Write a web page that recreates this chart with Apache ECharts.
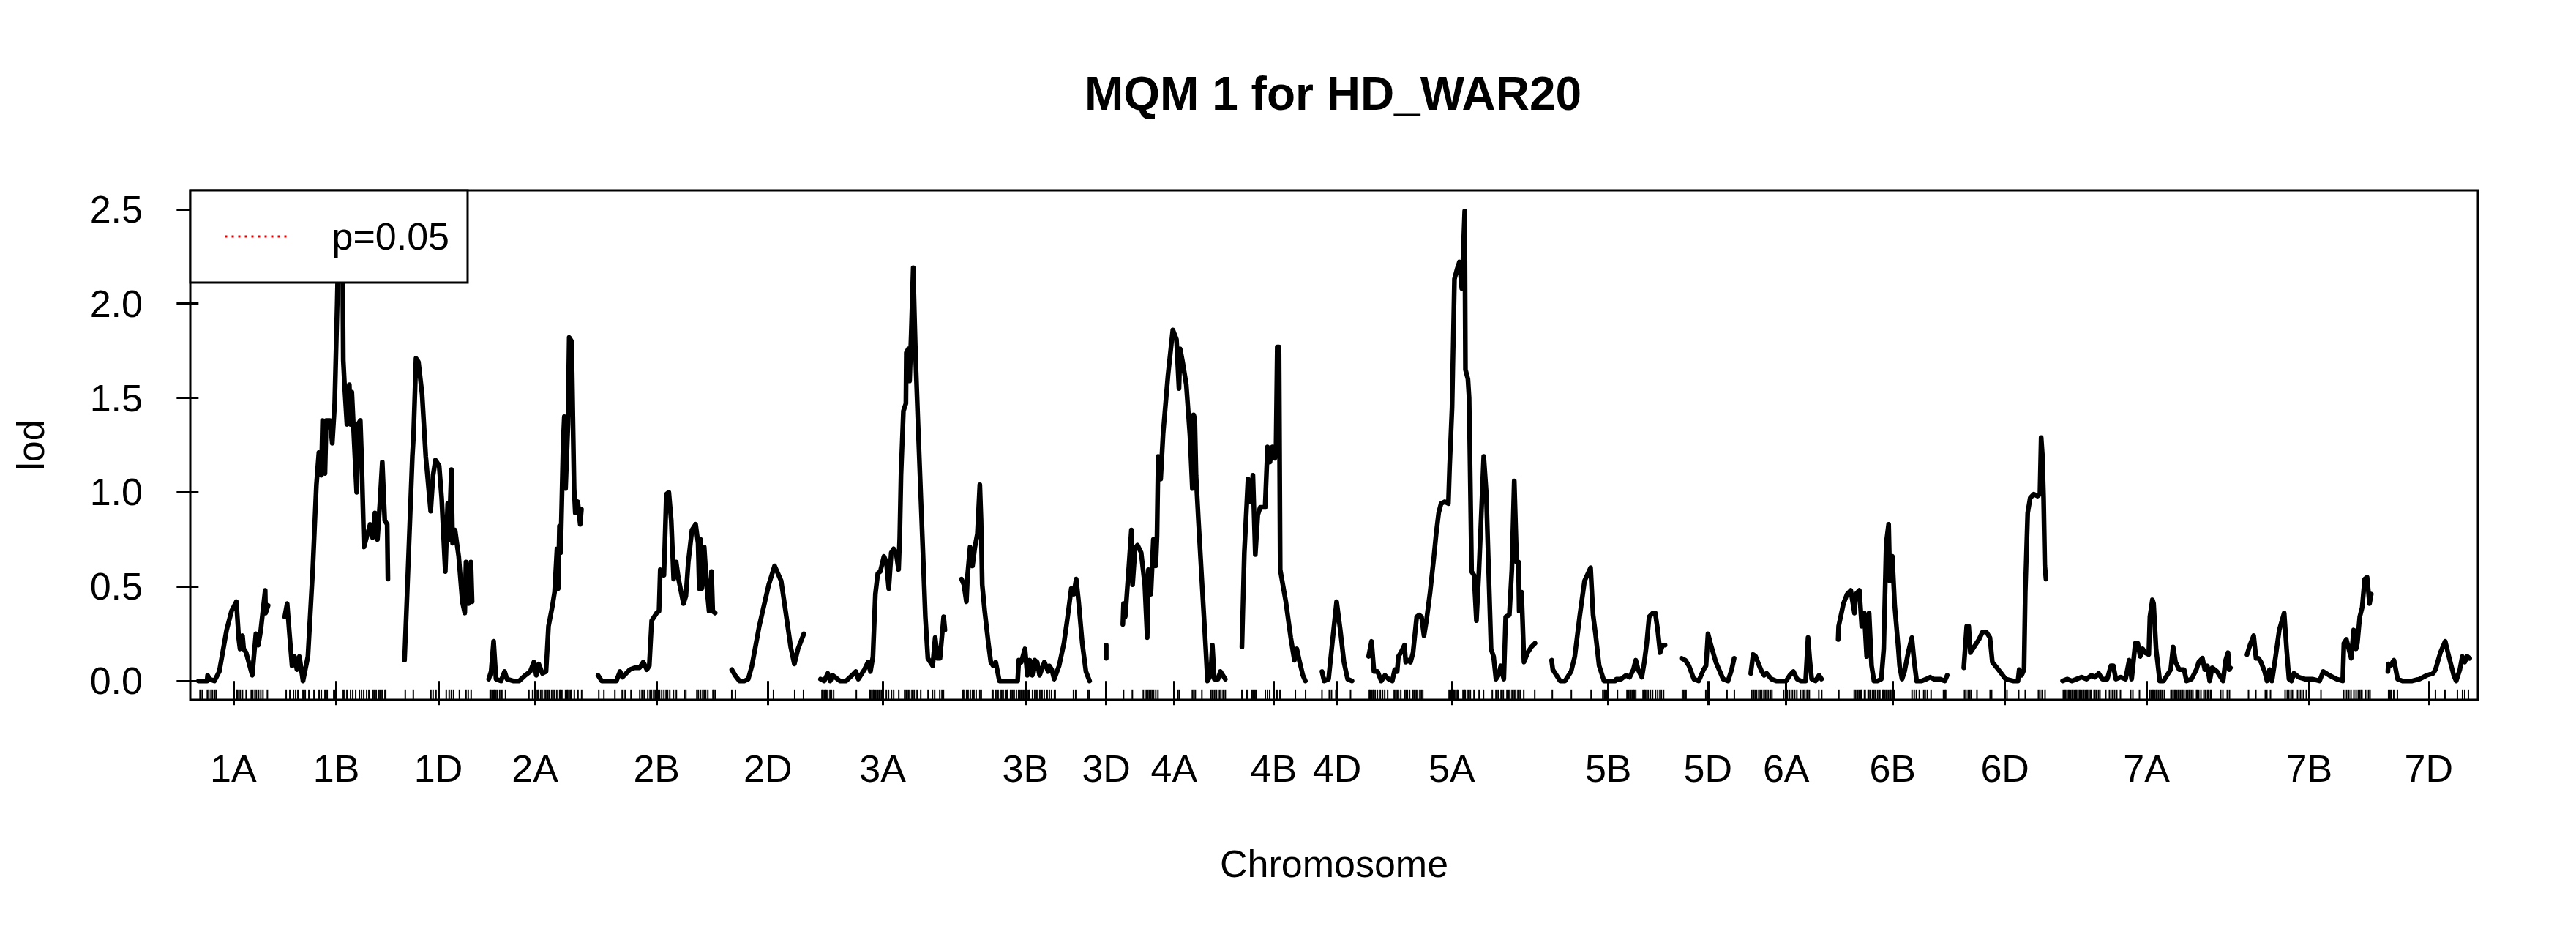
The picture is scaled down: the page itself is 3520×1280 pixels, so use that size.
<!DOCTYPE html>
<html>
<head>
<meta charset="utf-8">
<script src="https://cdn.jsdelivr.net/npm/echarts@6/dist/echarts.min.js"></script>
<style>
html,body{margin:0;padding:0;background:#fff;}
#chart{width:3520px;height:1280px;}
</style>
</head>
<body>
<div id="chart"></div>
<script>
// ---- chromosomes ----
const chrNames = ['1A','1B','1D','2A','2B','2D','3A','3B','3D','4A','4B','4D','5A','5B','5D','6A','6B','6D','7A','7B','7D'];
const chrLengths = [95,141,92.3,126.7,160,98.5,170,175,0,140,86.7,41,227.3,155,71.7,96.7,149,112.3,229.3,169.7,111.7];
const GAP = 22.7;
const yTicks = [0, 0.5, 1.0, 1.5, 2.0, 2.5];

// ---- LOD profiles: [position within chromosome, lod] ----
const lod1A = [[0,0],[11.6,0],[12.3,0.03],[15,0.01],[21.6,0],[28.3,0.05],[38.3,0.27],[45,0.37],[51.6,0.42],[55,0.22],[56.6,0.17],[60,0.24],[61.6,0.17],[65,0.15],[73.3,0.03],[78.3,0.25],[81.6,0.19],[85,0.27],[91,0.48],[91.6,0.36],[95,0.40]];
const lod1B = [[0,0.34],[3.3,0.41],[6.7,0.24],[10,0.08],[13.3,0.13],[16.7,0.06],[20,0.13],[25,0],[31.7,0.13],[38.3,0.59],[43.3,1.04],[46.7,1.21],[50,1.09],[51.7,1.38],[55,1.10],[56.7,1.38],[61.7,1.38],[65,1.26],[68.3,1.47],[71.7,2.0],[73.3,2.3],[76.7,2.25],[79,2.3],[80,1.70],[81.7,1.57],[85,1.36],[88.3,1.57],[90,1.36],[91.7,1.53],[95,1.26],[98.3,1.0],[100,1.36],[103.3,1.38],[105,1.19],[108.3,0.71],[111.7,0.76],[116.7,0.83],[120,0.76],[123.3,0.89],[126.7,0.75],[130,0.94],[133.3,1.16],[136.7,0.85],[140,0.83],[141,0.54]];
const lod1D = [[0,0.11],[4,0.51],[10.7,1.19],[12.3,1.30],[15.7,1.71],[19,1.69],[24,1.52],[29,1.19],[35.7,0.90],[39,1.09],[42.3,1.17],[47.3,1.14],[50.7,0.97],[55.7,0.58],[59,0.94],[60.7,0.75],[64,1.12],[65.7,0.73],[69,0.80],[74,0.66],[79,0.42],[82.3,0.36],[84,0.63],[87.3,0.41],[90.7,0.63],[92.3,0.42]];
const lod2A = [[0,0.01],[3.3,0.05],[6.7,0.21],[10,0.01],[16.7,0],[21.7,0.05],[25,0.01],[33.3,0],[41.7,0],[50,0.03],[56.7,0.05],[61.7,0.10],[65,0.03],[68.3,0.09],[73.3,0.04],[78.3,0.05],[81.7,0.29],[86.7,0.39],[90,0.47],[93.3,0.70],[95,0.49],[96.7,0.82],[98.3,0.68],[101.7,1.26],[103.3,1.40],[105,1.02],[108.3,1.36],[110,1.82],[113.3,1.80],[115,1.40],[116.7,1.02],[118.3,0.89],[121.7,0.95],[125,0.83],[126.7,0.91]];
const lod2B = [[0,0.03],[5,0],[25,0],[30,0.05],[33.3,0.02],[38.3,0.04],[43.3,0.06],[50,0.07],[56.7,0.07],[61.7,0.10],[66.7,0.06],[70,0.08],[73.3,0.32],[80,0.36],[83.3,0.37],[85,0.59],[90,0.56],[93.3,0.99],[96.7,1.0],[100,0.85],[103.3,0.54],[106.7,0.63],[110,0.54],[116.7,0.41],[120,0.45],[123.3,0.63],[128.3,0.80],[133.3,0.83],[136.7,0.73],[138.3,0.49],[140,0.75],[141.7,0.49],[145,0.71],[148.3,0.51],[151.7,0.37],[155,0.58],[156.7,0.37],[160,0.36]];
const lod2D = [[0,0.06],[4.5,0.03],[10.5,0],[17.5,0],[22.5,0.01],[27.5,0.08],[37.5,0.29],[50.5,0.51],[58.5,0.61],[67.5,0.53],[73.5,0.37],[80.5,0.18],[85.5,0.09],[90.5,0.17],[98.5,0.25]];
const lod3A = [[0,0.01],[5,0],[10,0.04],[13.3,0],[16.7,0.03],[20,0.02],[26.7,0],[35,0],[43.3,0.03],[48.3,0.05],[51.7,0.01],[60,0.06],[65,0.10],[68.3,0.05],[71.7,0.13],[75,0.46],[78.3,0.57],[81.7,0.58],[86.7,0.66],[90,0.63],[93.3,0.49],[96.7,0.68],[100,0.70],[103.3,0.68],[106.7,0.59],[108.3,0.76],[110,1.09],[113.3,1.43],[116.7,1.47],[117.3,1.74],[120,1.76],[121.7,1.59],[124,1.84],[126.7,2.19],[128.3,1.95],[130,1.71],[133.3,1.36],[140,0.68],[143.3,0.34],[146.7,0.12],[153.3,0.08],[156.7,0.23],[160,0.12],[163.3,0.12],[168.3,0.34],[170,0.27]];
const lod3B = [[0,0.54],[3.3,0.51],[6.7,0.42],[8.3,0.56],[11.7,0.71],[15,0.61],[18.3,0.71],[21.7,0.78],[25,1.04],[26.7,0.85],[28.3,0.51],[31.7,0.37],[36.7,0.20],[40,0.10],[43.3,0.08],[46.7,0.10],[51.7,0],[76.7,0],[78.3,0.11],[81.7,0.10],[86.7,0.17],[90,0.03],[93.3,0.11],[96.7,0.03],[100,0.11],[103.3,0.10],[106.7,0.03],[113.3,0.10],[118.3,0.05],[120,0.08],[123.3,0.06],[126.7,0.01],[133.3,0.08],[140,0.20],[145,0.34],[150,0.49],[153.3,0.46],[156.7,0.54],[160,0.42],[165,0.20],[170,0.05],[175,0]];
const lod3D = [[0,0.19],[0,0.12]];
const lod4A = [[0,0.30],[1,0.41],[3.3,0.34],[8.3,0.61],[11.7,0.80],[13.3,0.51],[16.7,0.70],[20,0.72],[25,0.68],[30,0.51],[33.3,0.23],[35,0.59],[38.3,0.46],[41.7,0.75],[45,0.61],[46.7,0.77],[48.3,1.19],[51.7,1.07],[55,1.31],[61.7,1.62],[68.3,1.86],[73.3,1.81],[76.7,1.55],[78.3,1.76],[81.7,1.69],[86.7,1.57],[91.7,1.30],[95,1.02],[96.7,1.41],[98.3,1.39],[100,1.09],[103.3,0.85],[108.3,0.51],[113.3,0.17],[115.7,0],[120,0.03],[122.3,0.19],[125,0.01],[130,0.01],[133.3,0.05],[136.7,0.03],[140,0.01]];
const lod4B = [[0,0.18],[3.3,0.68],[8.3,1.07],[11.7,0.95],[15,1.09],[18.3,0.67],[21.7,0.88],[25,0.92],[31.7,0.92],[35,1.24],[38.3,1.16],[41.7,1.24],[45,1.18],[46.7,1.26],[48.3,1.77],[50.7,1.77],[52.3,0.59],[60,0.42],[66.7,0.23],[71.7,0.11],[75,0.17],[78.3,0.11],[83.3,0.03],[86.7,0]];
const lod4D = [[0,0.05],[3,0],[9,0.01],[14,0.2],[20,0.42],[25,0.27],[30,0.10],[35,0.01],[41,0]];
const lod5A = [[0,0.13],[4,0.21],[7.3,0.05],[12.3,0.05],[17.3,0],[22.3,0.03],[27.3,0.01],[32.3,0],[35.7,0.06],[39,0.05],[40.7,0.13],[44,0.15],[49,0.19],[50.7,0.10],[54,0.11],[57.3,0.10],[60.7,0.15],[65.7,0.34],[69,0.35],[72.3,0.34],[75.7,0.24],[79,0.32],[84,0.47],[89,0.65],[92.3,0.78],[95.7,0.89],[99,0.94],[104,0.95],[109,0.94],[110.7,1.14],[114,1.45],[117.3,2.13],[120.7,2.18],[124,2.22],[127.3,2.08],[129,2.24],[131.3,2.49],[132.3,1.65],[135.7,1.60],[137.3,1.50],[140.7,0.58],[144,0.56],[147.3,0.32],[150.7,0.58],[157.3,1.19],[160.7,1.0],[167.3,0.17],[170.7,0.13],[174,0.01],[177.3,0.03],[180.7,0.08],[184.7,0.01],[187.3,0.34],[192.3,0.35],[195.7,0.59],[199,1.06],[202.3,0.63],[204.7,0.63],[205.7,0.37],[209,0.47],[212.3,0.10],[217.3,0.15],[222.3,0.18],[227.3,0.20]];
const lod5B = [[0,0.11],[1.7,0.06],[11.7,0],[18.3,0],[26.7,0.05],[31.7,0.13],[38.3,0.34],[45,0.53],[53.3,0.60],[56.7,0.35],[60,0.25],[65,0.08],[71.7,0],[86.7,0],[88.3,0.01],[95,0.01],[101.7,0.03],[106.7,0.02],[111.7,0.06],[115,0.11],[118.3,0.06],[123.3,0.02],[126.7,0.10],[130,0.20],[133.3,0.34],[138.3,0.36],[141.7,0.36],[145,0.27],[148.3,0.15],[151.7,0.19],[155,0.19]];
const lod5D = [[0,0.12],[5,0.11],[10,0.08],[16.7,0.01],[23.3,0],[30,0.06],[33.3,0.08],[36,0.25],[40,0.19],[46.7,0.10],[56.7,0.01],[63.3,0],[68.3,0.06],[71.7,0.12]];
const lod6A = [[0,0.04],[3.3,0.14],[6.7,0.13],[11.7,0.08],[15,0.05],[18.3,0.03],[21.7,0.04],[28.3,0.01],[35,0],[48.3,0],[53.3,0.03],[58.3,0.05],[63.3,0.01],[68.3,0],[75,0],[78.3,0.23],[80.7,0.11],[83.3,0.01],[88.3,0],[93.3,0.03],[96.7,0.01]];
const lod6B = [[0,0.22],[0.7,0.29],[7.3,0.41],[12.3,0.46],[17.3,0.48],[22.3,0.36],[24,0.46],[29,0.48],[32.3,0.29],[35.7,0.36],[39,0.13],[42.3,0.36],[45.7,0.08],[49,0],[54,0],[59,0.01],[62.3,0.17],[65.7,0.73],[69,0.83],[70.7,0.53],[74,0.66],[77.3,0.40],[82.3,0.17],[84,0.08],[87.3,0.01],[90.7,0.05],[95.7,0.15],[100.7,0.23],[104,0.10],[107.3,0],[114,0],[120.7,0.01],[125.7,0.02],[130.7,0.01],[139,0.01],[145.7,0],[149,0.03]];
const lod6D = [[0,0.07],[4,0.29],[6.7,0.29],[9,0.15],[14,0.18],[20.7,0.22],[25.7,0.26],[30.7,0.26],[35.7,0.23],[39,0.10],[47.3,0.06],[57.3,0.01],[67.3,0],[74,0],[75.7,0.06],[79,0.03],[82.3,0.06],[84,0.47],[87.3,0.89],[90.7,0.97],[95.7,0.99],[100.7,0.98],[104,0.99],[105.7,1.29],[107.3,1.20],[109,0.97],[110.7,0.61],[112.3,0.54]];
const lod7A = [[0,0],[6,0.01],[12.7,0],[19.3,0.01],[26,0.02],[32.7,0.01],[39.3,0.03],[44.3,0.02],[49.3,0.04],[54.3,0.01],[61,0.01],[66,0.08],[69.3,0.08],[72.7,0.01],[79.3,0.02],[86,0.01],[91,0.11],[94.3,0.01],[99.3,0.20],[102.7,0.20],[106,0.13],[109.3,0.17],[112.7,0.15],[117.7,0.14],[119.3,0.34],[122.7,0.43],[124.3,0.41],[127.7,0.17],[132.7,0],[137.7,0],[142.7,0.03],[147.7,0.06],[151,0.18],[154.3,0.10],[159.3,0.06],[166,0.06],[169.3,0],[176,0.01],[182.7,0.06],[186,0.10],[191,0.12],[194.3,0.06],[197.7,0.08],[201,0],[204.3,0.07],[211,0.05],[219.3,0],[222.7,0.11],[226,0.15],[227.7,0.06],[229.3,0.07]];
const lod7B = [[0,0.14],[4,0.19],[9,0.24],[12.3,0.12],[15.7,0.12],[19,0.10],[24,0.05],[27.3,0],[30.7,0.06],[34,0],[39,0.13],[44,0.27],[50.7,0.36],[54,0.17],[57.3,0.01],[60.7,0],[64,0.04],[70.7,0.02],[79,0.01],[89,0.01],[99,0],[104,0.05],[112.3,0.03],[122.3,0.01],[130.7,0],[132.3,0.20],[135.7,0.22],[139,0.17],[142.3,0.12],[145.7,0.27],[149,0.17],[150.7,0.20],[154,0.34],[157.3,0.39],[160.7,0.54],[164,0.55],[167.3,0.41],[169.7,0.46]];
const lod7D = [[0,0.05],[0.7,0.09],[3.3,0.08],[8.3,0.11],[13.3,0.01],[20,0],[33.3,0],[43.3,0.01],[53.3,0.03],[61.7,0.04],[65,0.06],[71.7,0.15],[78.3,0.21],[83.3,0.13],[90,0.03],[93.3,0],[98.3,0.06],[101.7,0.13],[105,0.10],[108.3,0.13],[111.7,0.12]];

// ---- marker positions (rug) within each chromosome ----
const mk1A = [2,5,12,14,17,19,22,24,52,53,55,57,60,65,72,74,77,79,82,85,88,94];
const mk1B = [2,7,12,15,18,25,28,33,40,47,50,55,58,67,68,80,82,85,90,93,97,102,105,108,112,115,120,122,125,128,130,133,137,138];
const mk1D = [1,12,36,39,43,57,61,64,67,75,84,87,91];
const mk2A = [2,3,5,7,8,10,12,15,18,23,55,60,63,65,67,68,71,73,76,78,81,83,86,88,90,93,97,98,100,105,107,108,110,112,113,117,122,127];
const mk2B = [1,8,23,33,37,45,57,60,63,68,71,73,76,78,82,84,87,90,93,95,98,103,107,118,120,135,137,140,143,145,147,150,157,158,160];
const mk2D = [0,5,57,86,98];
const mk3A = [2,3,5,7,8,10,13,15,18,49,67,68,70,72,73,75,77,78,80,83,90,93,97,100,107,115,117,120,122,125,128,132,137,147,153,156,163,166,168];
const mk3B = [2,3,7,9,12,15,17,20,25,27,42,43,47,50,53,55,57,60,62,63,67,68,70,72,75,78,80,82,83,85,87,88,90,92,93,97,100,103,107,110,113,117,120,123,127,128,153,156,173,175];
const mk3D = [0];
const mk4A = [1,13,28,32,34,36,38,40,42,45,48,75,77,95,97,99,108,120,122,125,127,128,132,134,137,140];
const mk4B = [0,6,8,13,15,17,19,32,35,38,44,47,49,52,73,87];
const mk4D = [0,10,13,19,39];
const mk5A = [1,2,4,6,7,9,12,16,19,22,26,35,37,39,41,44,49,51,53,56,60,62,65,67,70,72,74,110,112,114,116,117,119,121,122,129,131,132,136,139,144,151,157,169,174,177,181,184,189,191,193,196,199,201,204,207,212,227];
const mk5B = [1,27,54,70,72,73,75,77,90,103,105,107,108,110,112,113,115,125,127,128,130,132,135,138,142,145,148,150,153];
const mk5D = [1,3,6,33,37,62,72];
const mk6A = [1,3,4,6,8,11,13,15,18,20,22,24,27,29,45,50,53,57,60,63,68,72,74,77,78,80,93,97];
const mk6B = [1,22,24,27,29,31,32,36,37,41,42,44,47,49,51,54,57,61,62,64,66,67,69,71,72,74,77,101,104,107,111,117,119,122,127,144,146,147];
const mk6D = [1,3,6,8,10,18,36,38,59,75,84,102,104,107,111];
const mk7A = [1,3,4,6,8,9,11,13,14,16,18,19,21,23,24,26,28,29,31,33,34,36,38,39,43,44,46,49,51,59,64,68,71,74,79,93,96,105,119,121,123,124,126,128,129,131,133,134,136,139,148,149,151,153,154,156,158,159,161,163,164,166,169,171,173,174,176,178,183,184,186,189,193,195,198,199,202,203,216,219,225,228];
const mk7B = [2,12,25,27,32,52,55,57,60,62,69,73,77,81,101,132,136,139,142,146,149,152,154,156,157,162,166,168];
const mk7D = [1,3,5,8,13,65,78,95,102,105,110];

const chrLod = [lod1A,lod1B,lod1D,lod2A,lod2B,lod2D,lod3A,lod3B,lod3D,lod4A,lod4B,lod4D,lod5A,lod5B,lod5D,lod6A,lod6B,lod6D,lod7A,lod7B,lod7D];
const chrMarkers = [mk1A,mk1B,mk1D,mk2A,mk2B,mk2D,mk3A,mk3B,mk3D,mk4A,mk4B,mk4D,mk5A,mk5B,mk5D,mk6A,mk6B,mk6D,mk7A,mk7B,mk7D];

// ---- layout along the genome (R/qtl style: chromosomes separated by a gap) ----
const starts = [];
let acc = 0;
chrLengths.forEach((len) => { starts.push(acc); acc += len + GAP; });
const totalLen = starts[starts.length - 1] + chrLengths[chrLengths.length - 1];
const mids = chrLengths.map((len, i) => starts[i] + len / 2);

const FONT = "'Liberation Sans', Arial, Helvetica, sans-serif";
const Y_MIN = -0.1, Y_MAX = 2.6, RUG_TOP = -0.045;

const series = chrLod.map((pts, i) => ({
  type: 'line',
  name: chrNames[i],
  data: pts.map(p => [starts[i] + p[0], p[1]]),
  symbol: 'none',
  showSymbol: false,
  silent: true,
  animation: false,
  z: 3,
  lineStyle: { color: '#000', width: 6.5, cap: 'round', join: 'round' }
}));

const rugData = [];
chrMarkers.forEach((arr, i) => arr.forEach(m => rugData.push([starts[i] + m, Y_MIN])));
series.push({
  type: 'custom',
  name: 'markers',
  data: rugData,
  silent: true,
  animation: false,
  z: 2,
  renderItem: function (params, api) {
    const x = api.value(0);
    const p1 = api.coord([x, Y_MIN]);
    const p2 = api.coord([x, RUG_TOP]);
    return { type: 'line', shape: { x1: p1[0], y1: p1[1], x2: p2[0], y2: p2[1] }, style: { stroke: '#000', lineWidth: 2 } };
  }
});

// threshold legend entry (no line visible within the plotted range)
series.push({
  type: 'line', name: 'p=0.05', data: [], symbol: 'none',
  lineStyle: { color: '#e00000', type: [3, 6], width: 3 },
  itemStyle: { color: '#e00000' }
});

const chart = echarts.init(document.getElementById('chart'), null, { renderer: 'svg' });
chart.setOption({
  backgroundColor: '#fff',
  animation: false,
  title: {
    text: 'MQM 1 for HD_WAR20',
    left: 1477, top: 91,
    textStyle: { fontFamily: FONT, fontSize: 64, fontWeight: 'bold', color: '#000' }
  },
  legend: {
    data: ['p=0.05'],
    left: 260, top: 260,
    orient: 'vertical',
    itemWidth: 90, itemHeight: 20,
    padding: [33, 25, 33, 46],
    backgroundColor: '#fff',
    borderColor: '#000', borderWidth: 3, borderRadius: 0,
    selectedMode: false,
    itemStyle: { opacity: 0, borderWidth: 0 },
    lineStyle: { color: '#e00000', type: [3, 6], width: 3, opacity: 1 },
    textStyle: { fontFamily: FONT, fontSize: 52, color: '#000', lineHeight: 60, padding: [0, 0, 0, 51] }
  },
  grid: { left: 260, right: 134, top: 260, bottom: 324, show: true, borderColor: '#000', borderWidth: 3, backgroundColor: 'transparent' },
  xAxis: {
    type: 'value',
    min: -GAP / 2, max: totalLen + GAP / 2,
    name: 'Chromosome', nameLocation: 'middle', nameGap: 198,
    nameTextStyle: { fontFamily: FONT, fontSize: 52, color: '#000' },
    axisLine: { show: false },
    splitLine: { show: false },
    axisTick: { show: true, customValues: mids, length: 33, lineStyle: { color: '#000', width: 3 } },
    axisLabel: {
      show: true, customValues: mids, margin: 68,
      fontFamily: FONT, fontSize: 52, color: '#000',
      formatter: function (v) {
        let best = 0, bd = Infinity;
        mids.forEach((m, i) => { const d = Math.abs(m - v); if (d < bd) { bd = d; best = i; } });
        return chrNames[best];
      }
    }
  },
  yAxis: {
    type: 'value',
    min: Y_MIN, max: Y_MAX,
    name: 'lod', nameLocation: 'middle', nameGap: 192, nameRotate: 90,
    nameTextStyle: { fontFamily: FONT, fontSize: 52, color: '#000' },
    axisLine: { show: false },
    splitLine: { show: false },
    axisTick: { show: true, customValues: yTicks, length: 30, lineStyle: { color: '#000', width: 3 } },
    axisLabel: {
      show: true, customValues: yTicks, margin: 65,
      fontFamily: FONT, fontSize: 52, color: '#000',
      formatter: v => Number(v).toFixed(1)
    }
  },
  series: series
});
</script>
</body>
</html>
